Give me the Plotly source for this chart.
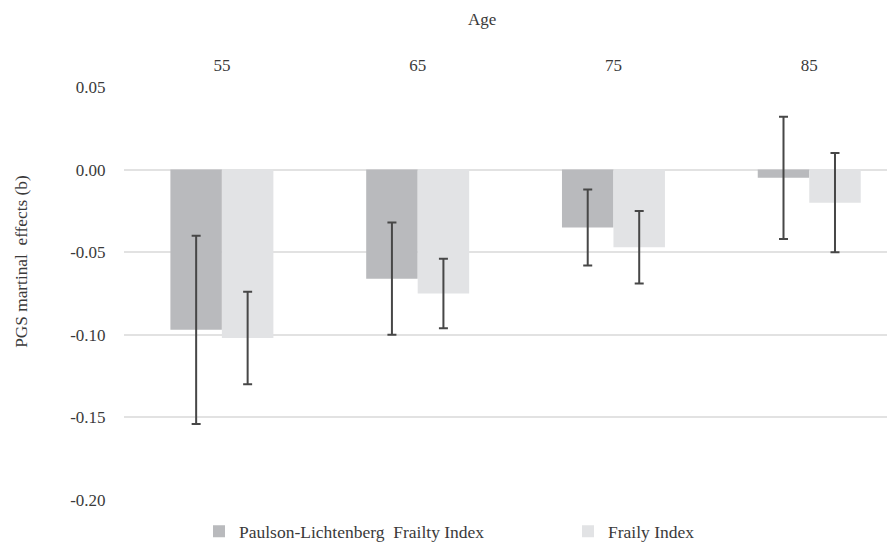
import plotly.graph_objects as go

ages = ["55", "65", "75", "85"]
pl_values = [-0.097, -0.066, -0.035, -0.005]
pl_errors = [0.057, 0.034, 0.023, 0.037]
fi_values = [-0.102, -0.075, -0.047, -0.020]
fi_errors = [0.028, 0.021, 0.022, 0.030]
series_names = ["Paulson-Lichtenberg  Frailty Index", "Fraily Index"]
y_ticks = [0.05, 0.00, -0.05, -0.10, -0.15, -0.20]
y_tick_labels = ["0.05", "0.00", "-0.05", "-0.10", "-0.15", "-0.20"]

FONT = "Liberation Serif, Times New Roman, serif"
TXT = "#3a3a3a"

# page body has an 8px margin; figure coordinates are offset by it
OFF = 8
W, H = 895 - OFF, 542 - OFF
L, T = 124 - OFF, 87 - OFF
B = H - (500.5 - OFF)
PW = W - L
PH = H - T - B

fig = go.Figure()
fig.add_trace(go.Bar(
    x=ages, y=pl_values, name=series_names[0], legend="legend",
    marker=dict(color="#b9babd", line=dict(width=0)),
    error_y=dict(type="data", array=pl_errors, visible=True,
                 color="#474747", thickness=2, width=4.5),
))
fig.add_trace(go.Bar(
    x=ages, y=fi_values, name=series_names[1], legend="legend2",
    marker=dict(color="#e2e3e5", line=dict(width=0)),
    error_y=dict(type="data", array=fi_errors, visible=True,
                 color="#474747", thickness=2, width=4.5),
))

leg_y = -((532 - OFF) - (H - B)) / PH
leg_common = dict(orientation="h", xanchor="left", y=leg_y, yanchor="middle",
                  font=dict(family=FONT, size=17.5, color=TXT),
                  bgcolor="rgba(0,0,0,0)", borderwidth=0)

fig.update_layout(
    width=W, height=H,
    margin=dict(l=L, r=0, t=T, b=B, pad=0, autoexpand=False),
    paper_bgcolor="white", plot_bgcolor="white",
    barmode="group", bargap=0.474, bargroupgap=0,
    font=dict(family=FONT, size=17, color=TXT),
    showlegend=True,
    legend=dict(x=(199 - 124) / PW, **leg_common),
    legend2=dict(x=(568 - 124) / PW, **leg_common),
    xaxis=dict(type="category", side="top", range=[-0.5, 3.438],
               showgrid=False, zeroline=False, showline=False,
               ticks="outside", ticklen=8, tickcolor="rgba(0,0,0,0)",
               tickfont=dict(family=FONT, size=17, color=TXT)),
    yaxis=dict(range=[-0.2, 0.05], tickvals=y_ticks, ticktext=y_tick_labels,
               showgrid=True, gridcolor="#e2e2e2", gridwidth=1.5,
               zeroline=False, showline=False,
               ticks="outside", ticklen=14, tickcolor="rgba(0,0,0,0)",
               tickfont=dict(family=FONT, size=17, color=TXT)),
    annotations=[
        dict(text="Age", xref="paper", yref="paper",
             x=(482 - 124) / PW, y=(500.5 - 19) / PH,
             xanchor="center", yanchor="middle", showarrow=False,
             font=dict(family=FONT, size=17, color=TXT)),
        dict(text="PGS martinal  effects (b)", xref="paper", yref="paper",
             x=(22 - 124) / PW, y=(500.5 - 262) / PH,
             xanchor="center", yanchor="middle",
             textangle=-90, showarrow=False,
             font=dict(family=FONT, size=17.3, color=TXT)),
    ],
)

fig.write_html("out.html")
